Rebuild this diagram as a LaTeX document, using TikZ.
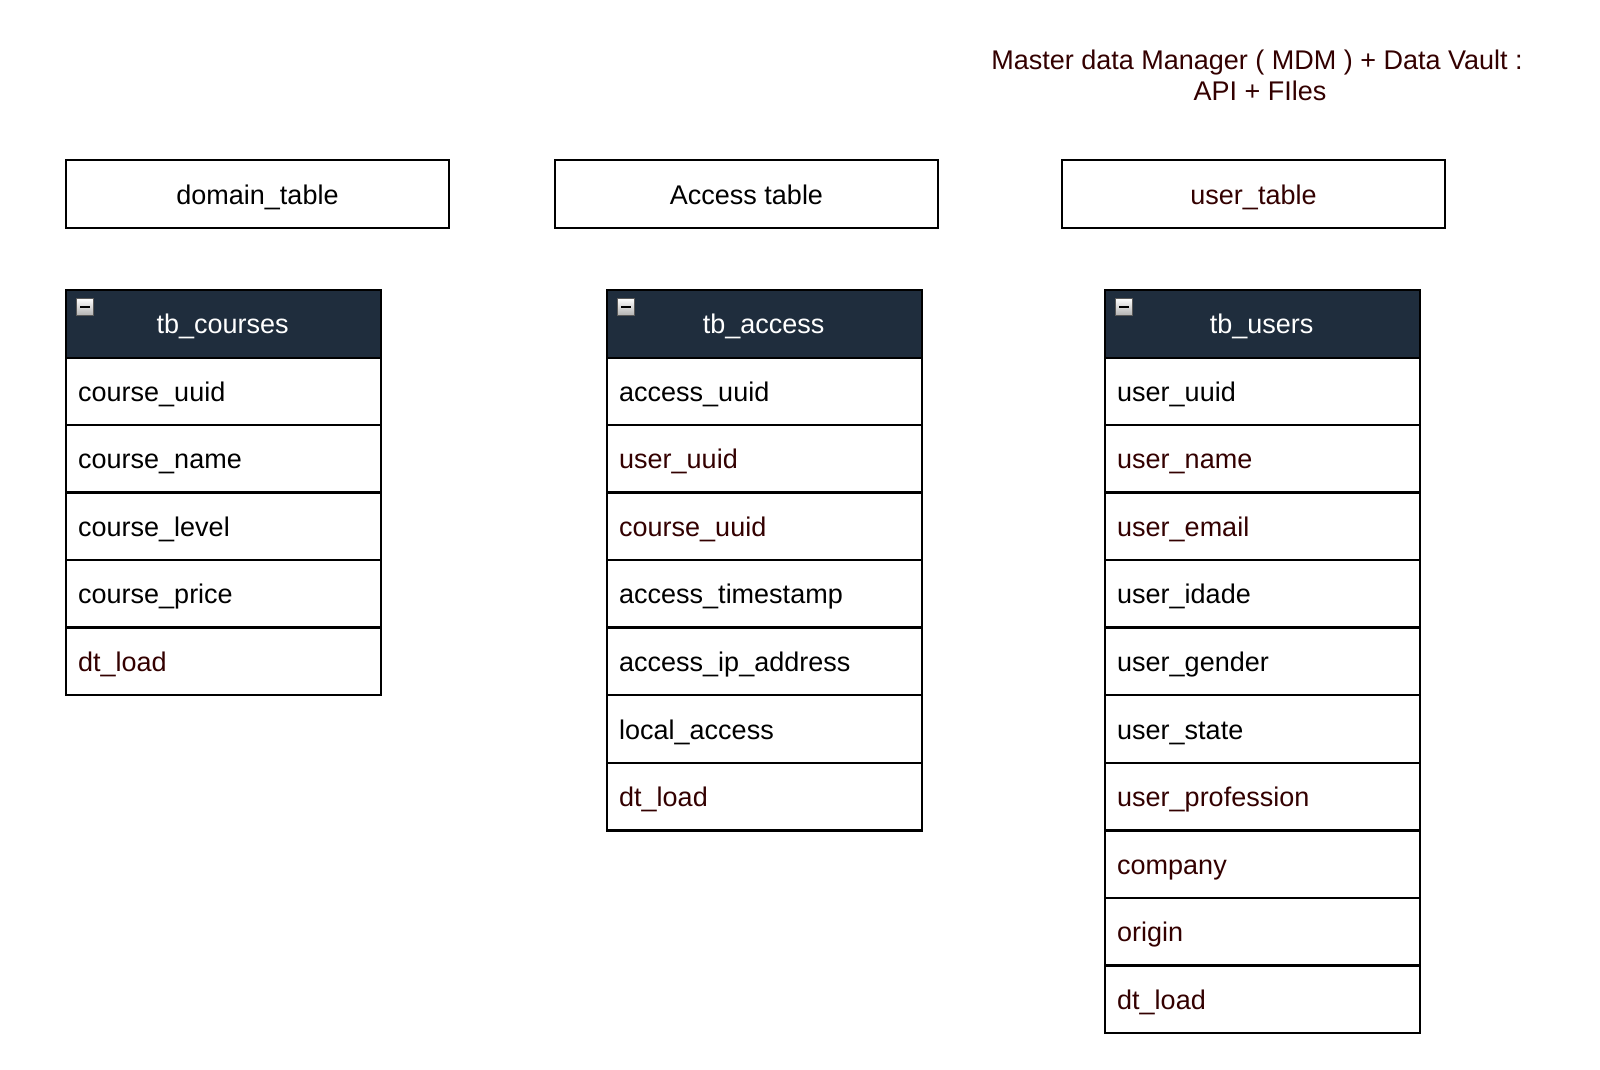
\documentclass[tikz,border=0pt]{standalone}
\usepackage{fontspec}
\setmainfont{Liberation Sans}
\definecolor{hdr}{HTML}{1F2D3D}
\definecolor{dred}{HTML}{330000}
\begin{document}
\begin{tikzpicture}[x=1pt,y=-1pt,
  every node/.style={font=\fontsize{27}{31}\selectfont},
  lbox/.style={draw=black,line width=2pt,minimum width=383pt,minimum height=68pt,inner sep=0pt,anchor=north west},
  hbox/.style={draw=black,fill=hdr,line width=2.4pt,minimum width=315pt,minimum height=67.6pt,inner sep=0pt,anchor=north west},
  rowbox/.style={draw=black,fill=white,line width=2.4pt,minimum width=315pt,minimum height=67.6pt,inner sep=0pt,anchor=north west},
  rtxt/.style={anchor=base west,inner sep=0pt},
  ctxt/.style={anchor=base,inner sep=0pt},
  icon/.style={draw=gray!70!black,line width=0.8pt,top color=white,bottom color=gray!60,minimum size=17pt,inner sep=0pt,anchor=north west}
]
\useasboundingbox (0,0) rectangle (1600,1070);
\fill[white] (0,0) rectangle (1600,1070);

\node[ctxt,text=dred] (title1) at (1257,70) {Master data Manager ( MDM ) + Data Vault :};
\node[ctxt,text=dred] (title2) at (1260,101) {API + FIles};

\node[lbox] (dom) at (65,159) {};
\node[ctxt] (domt) at ([yshift=-10pt]dom.center) {domain\_table};
\node[lbox] (acc) at (554,159) {};
\node[ctxt] (acct) at ([yshift=-10pt]acc.center) {Access table};
\node[lbox] (usr) at (1061,159) {};
\node[ctxt,text=dred] (usrt) at ([yshift=-10pt]usr.center) {user\_table};

% tb_courses
\foreach \i/\t/\c in {1/course\_uuid/black,2/course\_name/black,3/course\_level/black,4/course\_price/black,5/dt\_load/dred}{
  \node[rowbox] (c\i) at (65,{356+67.6*(\i-1)}) {};
  \node[rtxt,text=\c] (ct\i) at ([xshift=13pt,yshift=-10pt]c\i.west) {\t};
}
\node[hbox] (ch) at (65,289) {};
\node[ctxt,text=white] (cht) at ([xshift=-1pt,yshift=-9pt]ch.center) {tb\_courses};
\node[icon] (ci) at (76,298) {};
\draw[line width=2.2pt] ([xshift=4pt]ci.west) -- ([xshift=-4pt]ci.east);

% tb_access
\foreach \i/\t/\c in {1/access\_uuid/black,2/user\_uuid/dred,3/course\_uuid/dred,4/access\_timestamp/black,5/access\_ip\_address/black,6/local\_access/black,7/dt\_load/dred}{
  \node[rowbox] (a\i) at (606,{356+67.6*(\i-1)}) {};
  \node[rtxt,text=\c] (at\i) at ([xshift=13pt,yshift=-10pt]a\i.west) {\t};
}
\node[hbox] (ah) at (606,289) {};
\node[ctxt,text=white] (aht) at ([xshift=-1pt,yshift=-9pt]ah.center) {tb\_access};
\node[icon] (ai) at (617,298) {};
\draw[line width=2.2pt] ([xshift=4pt]ai.west) -- ([xshift=-4pt]ai.east);

% tb_users
\foreach \i/\t/\c in {1/user\_uuid/black,2/user\_name/dred,3/user\_email/dred,4/user\_idade/black,5/user\_gender/black,6/user\_state/black,7/user\_profession/dred,8/company/dred,9/origin/dred,10/dt\_load/dred}{
  \node[rowbox] (u\i) at (1104,{356+67.6*(\i-1)}) {};
  \node[rtxt,text=\c] (ut\i) at ([xshift=13pt,yshift=-10pt]u\i.west) {\t};
}
\node[hbox] (uh) at (1104,289) {};
\node[ctxt,text=white] (uht) at ([xshift=-1pt,yshift=-9pt]uh.center) {tb\_users};
\node[icon] (ui) at (1115,298) {};
\draw[line width=2.2pt] ([xshift=4pt]ui.west) -- ([xshift=-4pt]ui.east);
\end{tikzpicture}
\end{document}
